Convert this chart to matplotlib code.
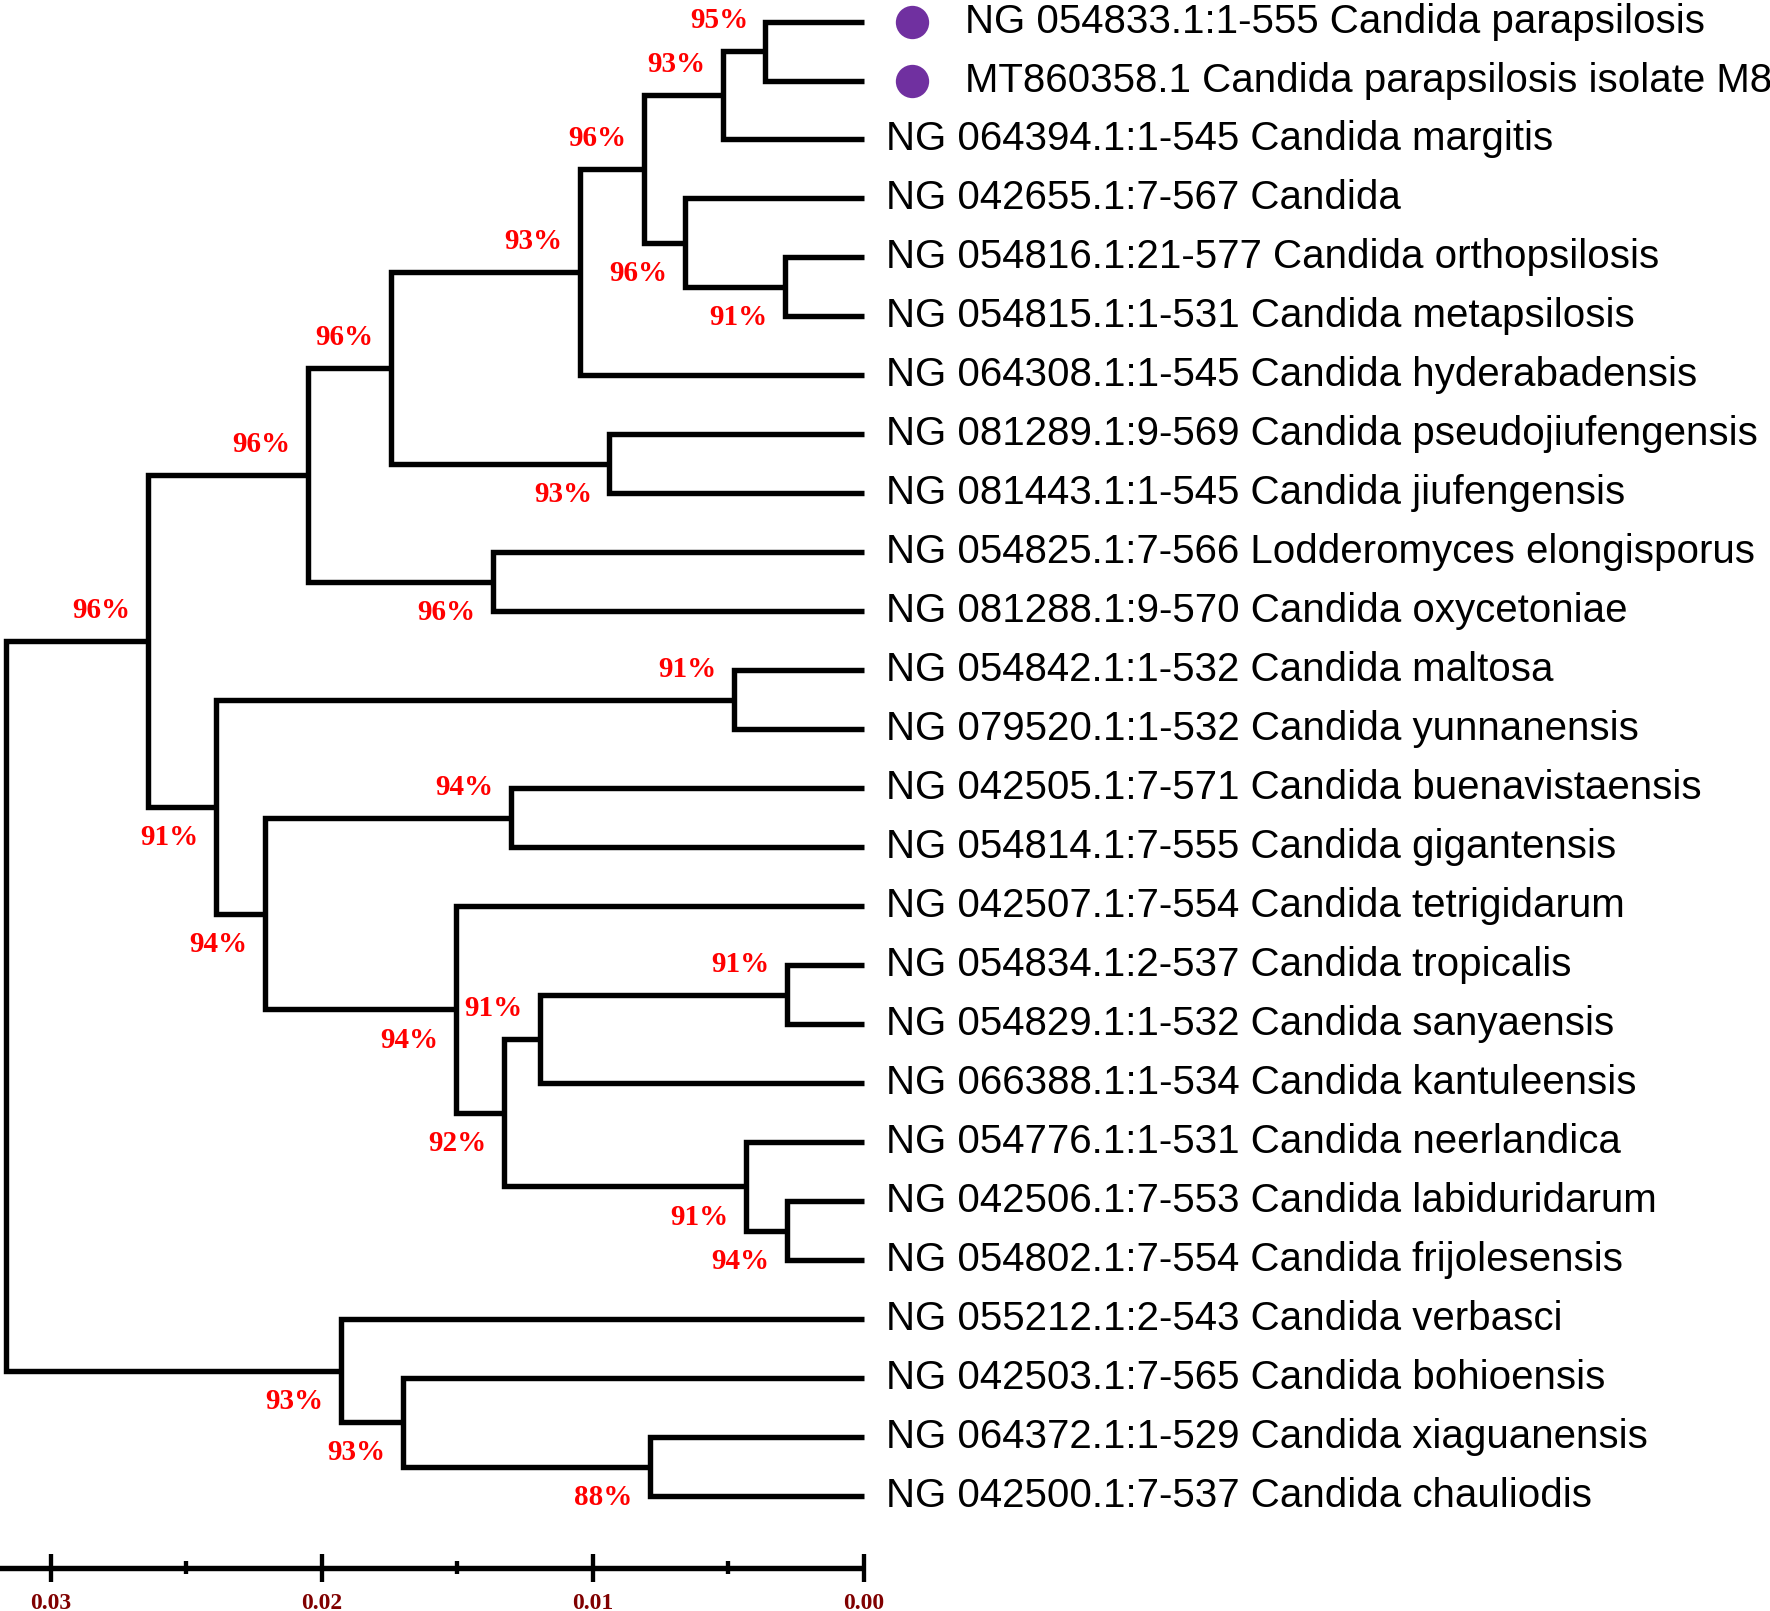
import matplotlib
matplotlib.use("Agg")
import matplotlib.pyplot as plt

# ---------------- data ----------------
leaf_labels = [
    "NG 054833.1:1-555 Candida parapsilosis",
    "MT860358.1 Candida parapsilosis isolate M8",
    "NG 064394.1:1-545 Candida margitis",
    "NG 042655.1:7-567 Candida",
    "NG 054816.1:21-577 Candida orthopsilosis",
    "NG 054815.1:1-531 Candida metapsilosis",
    "NG 064308.1:1-545 Candida hyderabadensis",
    "NG 081289.1:9-569 Candida pseudojiufengensis",
    "NG 081443.1:1-545 Candida jiufengensis",
    "NG 054825.1:7-566 Lodderomyces elongisporus",
    "NG 081288.1:9-570 Candida oxycetoniae",
    "NG 054842.1:1-532 Candida maltosa",
    "NG 079520.1:1-532 Candida yunnanensis",
    "NG 042505.1:7-571 Candida buenavistaensis",
    "NG 054814.1:7-555 Candida gigantensis",
    "NG 042507.1:7-554 Candida tetrigidarum",
    "NG 054834.1:2-537 Candida tropicalis",
    "NG 054829.1:1-532 Candida sanyaensis",
    "NG 066388.1:1-534 Candida kantuleensis",
    "NG 054776.1:1-531 Candida neerlandica",
    "NG 042506.1:7-553 Candida labiduridarum",
    "NG 054802.1:7-554 Candida frijolesensis",
    "NG 055212.1:2-543 Candida verbasci",
    "NG 042503.1:7-565 Candida bohioensis",
    "NG 064372.1:1-529 Candida xiaguanensis",
    "NG 042500.1:7-537 Candida chauliodis",
]
marked_leaves = [0, 1]

# internal nodes: ids 26.. ; children refer to leaf indices (0-25) or node ids
node_ids = list(range(26, 51))
node_children = [
    (0, 1), (26, 2), (4, 5), (3, 28), (27, 29), (30, 6), (7, 8), (31, 32),
    (9, 10), (33, 34), (11, 12), (13, 14), (16, 17), (38, 18), (20, 21),
    (19, 40), (39, 41), (15, 42), (37, 43), (36, 44), (35, 45), (24, 25),
    (23, 47), (22, 48), (46, 49),
]
node_heights = [
    0.00362, 0.00520, 0.00290, 0.00658, 0.00812, 0.01046, 0.00938, 0.01746,
    0.01367, 0.02050, 0.00479, 0.01300, 0.00283, 0.01196, 0.00283, 0.00433,
    0.01329, 0.01504, 0.02210, 0.02390, 0.02642, 0.00788, 0.01700, 0.01930,
    0.03167,
]
node_support = [
    95, 93, 91, 96, 96, 93, 93, 96, 96, 96, 91, 94, 91, 91, 94, 91,
    92, 94, 94, 91, 96, 88, 93, 93, None,
]
# label side: -1 above the node stem, +1 below
label_side = [
    -1, -1, 1, 1, -1, -1, 1, -1, 1, -1, -1, -1, -1, -1, 1, 1,
    1, 1, 1, 1, -1, 1, 1, 1, 0,
]

scale_major = [0.03, 0.02, 0.01, 0.00]
scale_minor = [0.025, 0.015, 0.005]
scale_labels = ["0.03", "0.02", "0.01", "0.00"]

# ---------------- layout ----------------
fig = plt.figure(figsize=(17.70, 16.11), dpi=100)
ax = fig.add_axes([0, 0, 1, 1])
ax.set_xlim(0.031875, -0.033458)
ax.set_ylim(26.95, -0.365)
ax.axis("off")

LW = 3.9
n_leaves = len(leaf_labels)
ypos = {i: float(i) for i in range(n_leaves)}
hpos = {i: 0.0 for i in range(n_leaves)}
info = {}
for nid, ch, h, s, side in zip(node_ids, node_children, node_heights,
                               node_support, label_side):
    info[nid] = (ch, h, s, side)

def compute(n):
    if n < n_leaves:
        return ypos[n]
    ch, h, s, side = info[n]
    ys = [compute(c) for c in ch]
    ypos[n] = sum(ys) / len(ys)
    hpos[n] = h
    return ypos[n]

root = node_ids[-1]
compute(root)

for nid in node_ids:
    ch, h, s, side = info[nid]
    c1, c2 = ch
    xs = [hpos[c1], h, h, hpos[c2]]
    ys = [ypos[c1], ypos[c1], ypos[c2], ypos[c2]]
    ax.plot(xs, ys, color="black", lw=LW, solid_joinstyle="miter",
            solid_capstyle="butt")
    if s is not None:
        ax.text(h + 0.00172, ypos[nid] + 0.52 * side, f"{s}%",
                color="#ff0000", fontsize=21, fontweight="bold",
                family="Liberation Serif", ha="center", va="center")

for i, lab in enumerate(leaf_labels):
    if i in marked_leaves:
        ax.plot(-0.00178, i, "o", color="#7030A0", markersize=24,
                markeredgewidth=0)
        x0 = -0.00375
    else:
        x0 = -0.00083
    ax.text(x0, i, lab, fontsize=29, family="Liberation Sans",
            ha="left", va="center", color="black")

# scale bar
ybar = 26.22
ax.plot([0.0319, 0.0], [ybar, ybar], color="black", lw=LW,
        solid_capstyle="butt")
for v in scale_major:
    ax.plot([v, v], [ybar - 0.23, ybar + 0.23], color="black", lw=LW * 0.8,
            solid_capstyle="butt")
for v in scale_minor:
    ax.plot([v, v], [ybar - 0.11, ybar + 0.11], color="black", lw=LW * 0.8,
            solid_capstyle="butt")
for v, t in zip(scale_major, scale_labels):
    ax.text(v, 26.82, t, color="#800000", fontsize=17, fontweight="bold",
            family="Liberation Serif", ha="center", va="center")

fig.savefig("out.png", dpi=100, facecolor="white")
